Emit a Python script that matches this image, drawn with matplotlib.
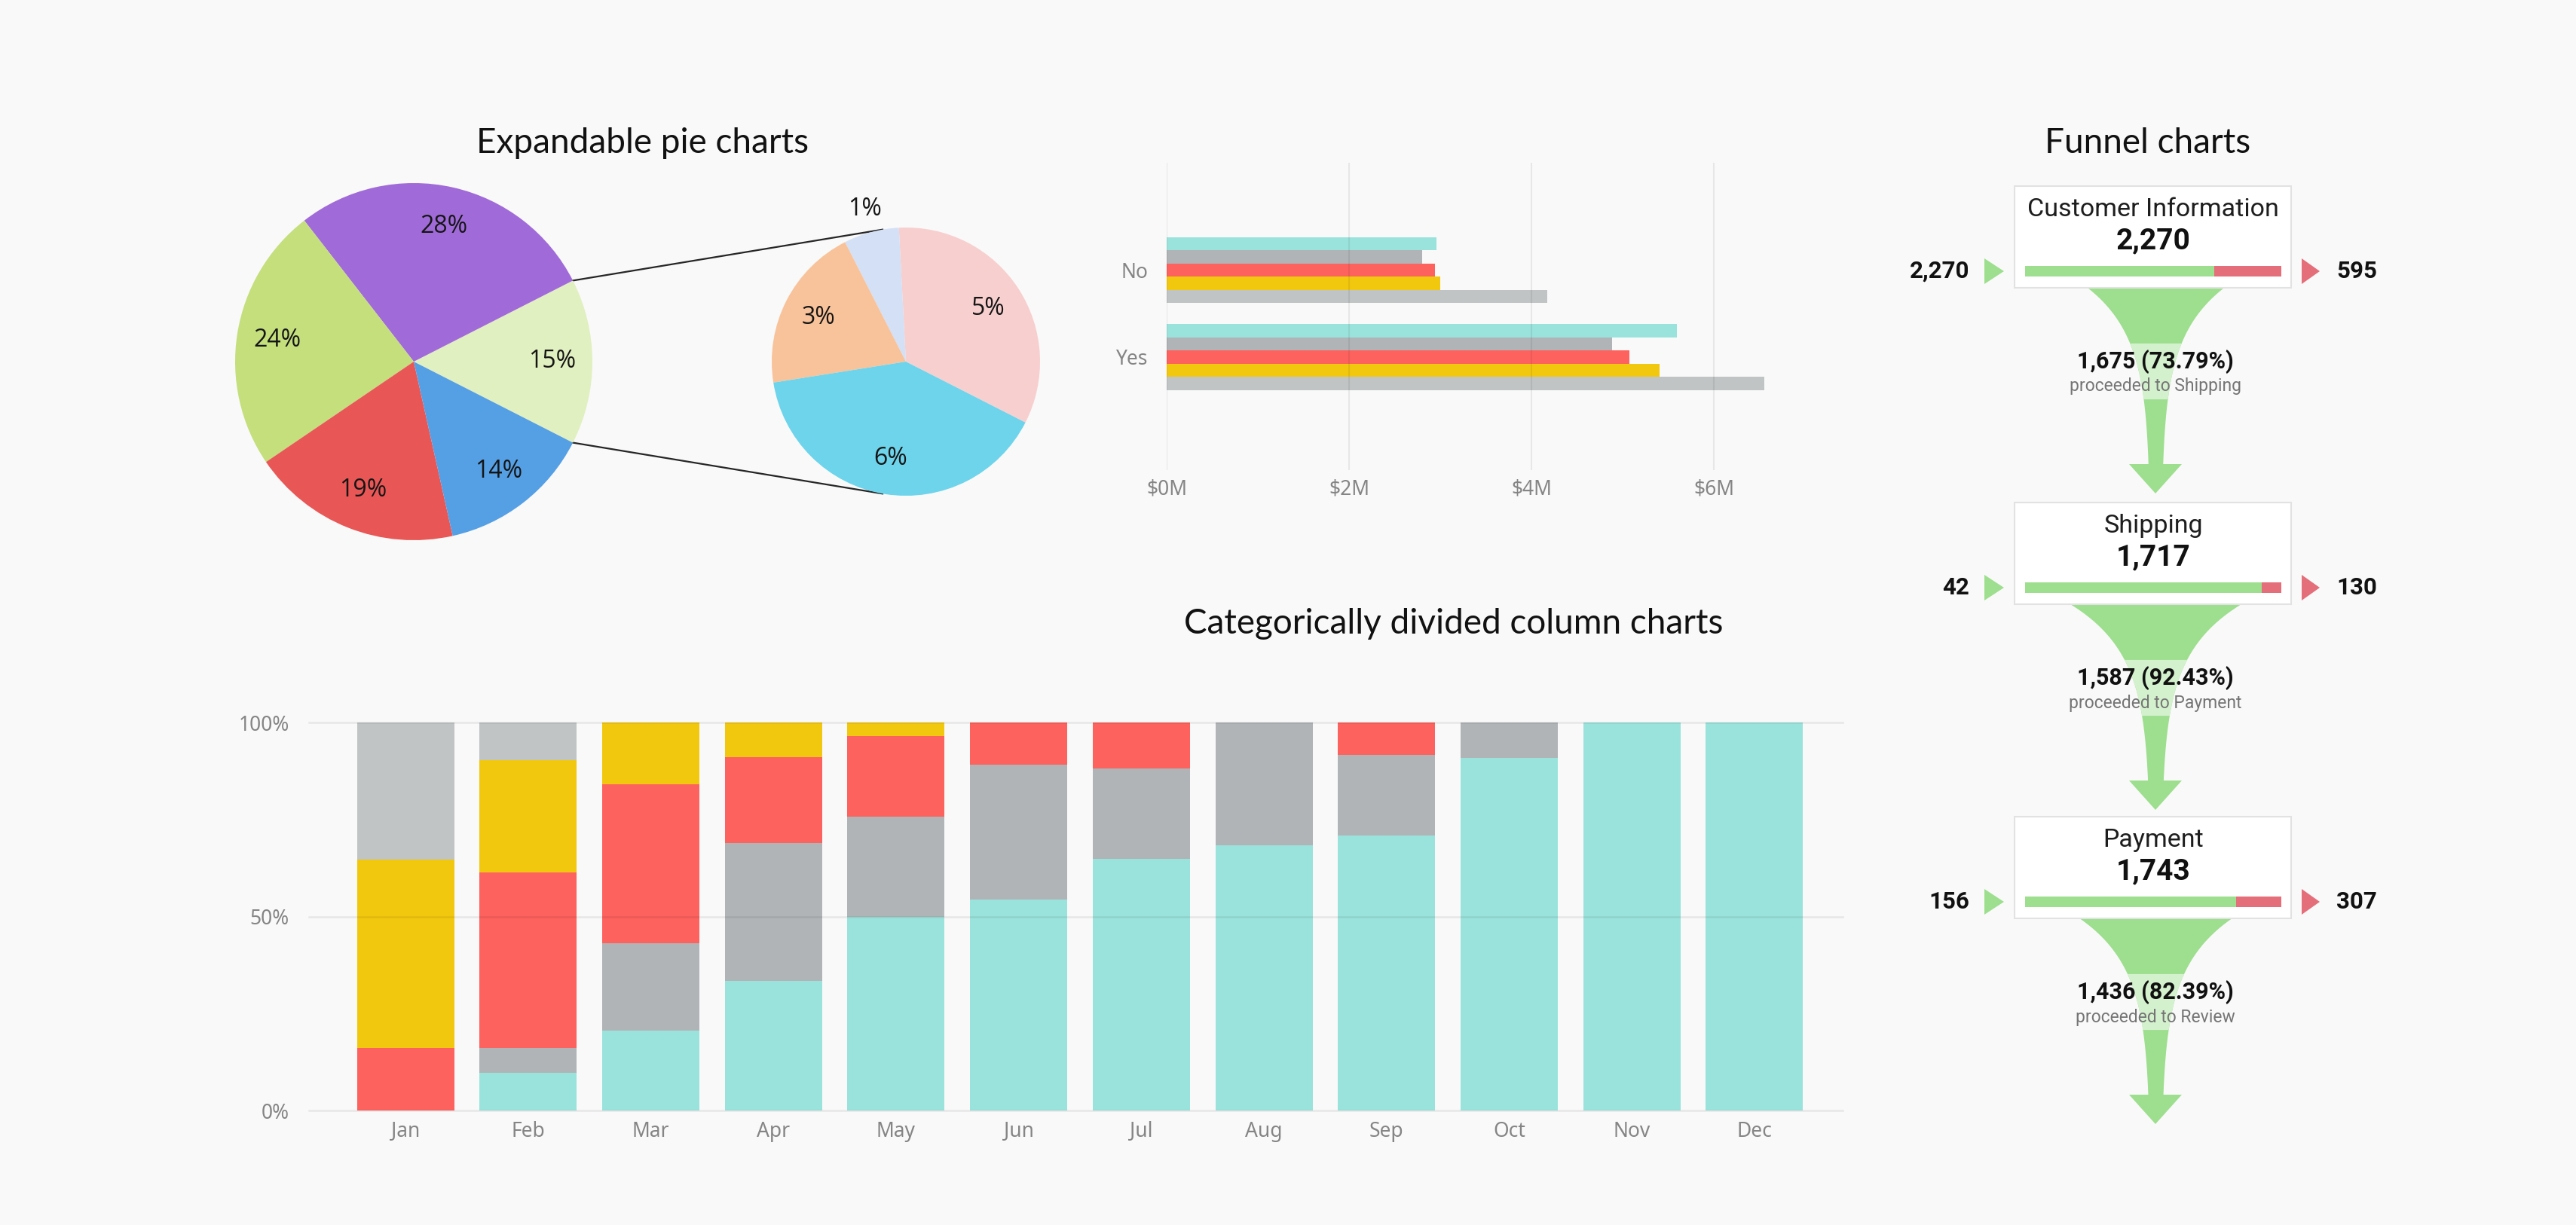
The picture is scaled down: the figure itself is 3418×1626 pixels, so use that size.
import numpy as np
import matplotlib
matplotlib.use('Agg')
import matplotlib.pyplot as plt
from matplotlib.patches import Rectangle, Polygon

# ---------------- data ----------------
pie_main_values = [15, 28, 24, 19, 14]
pie_main_colors = ['#E1F0C0', '#A06BD8', '#C4DF7C', '#E85756', '#559FE4']
pie_sub_values = [5, 1, 3, 6]
pie_sub_colors = ['#F8CFCF', '#D3E0F5', '#F8C39A', '#6DD4EB']

hbar_categories = ['No', 'Yes']
hbar_teal = [2.96, 5.59]
hbar_gray = [2.80, 4.88]
hbar_red = [2.94, 5.07]
hbar_yellow = [3.00, 5.40]
hbar_lightgray = [4.17, 6.55]
hbar_ticks = [0, 2, 4, 6]

months = ['Jan', 'Feb', 'Mar', 'Apr', 'May', 'Jun', 'Jul', 'Aug', 'Sep', 'Oct', 'Nov', 'Dec']
col_teal = [0, 9.7, 20.5, 33.4, 49.9, 54.3, 64.8, 68.3, 70.9, 90.9, 100, 100]
col_gray = [0, 6.4, 22.7, 35.6, 25.9, 34.9, 23.4, 31.7, 20.8, 9.1, 0, 0]
col_red = [16.1, 45.3, 40.8, 22.1, 20.7, 10.8, 11.8, 0, 8.3, 0, 0, 0]
col_yellow = [48.6, 28.9, 16.0, 8.9, 3.5, 0, 0, 0, 0, 0, 0, 0]
col_lightgray = [35.3, 9.7, 0, 0, 0, 0, 0, 0, 0, 0, 0, 0]
col_ticks = [0, 50, 100]

funnel_stages = ['Customer Information', 'Shipping', 'Payment']
funnel_totals = [2270, 1717, 1743]
funnel_entries = [2270, 42, 156]
funnel_exits = [595, 130, 307]
funnel_proceeded = [1675, 1587, 1436]
funnel_next = ['Shipping', 'Payment', 'Review']

# ---------------- style ----------------
SERIES_COLORS = ['#9AE3DC', '#B0B4B6', '#FD625E', '#F2C80F', '#C0C4C5']
BG = '#F9F9F9'
TITLE_FONT = ['Lato', 'DejaVu Sans']
LABEL_FONT = ['Open Sans', 'DejaVu Sans']
AXIS_FONT = ['Noto Sans', 'DejaVu Sans']
FUNNEL_FONT = ['Roboto', 'DejaVu Sans']
GREEN = '#9DDF8E'
GREEN_LIGHT = '#D4F1CD'
RED = '#E46E79'

W, H = 3418, 1626
DPI = 100
fig = plt.figure(figsize=(W / DPI, H / DPI), dpi=DPI, facecolor=BG)


def px_axes(x0, y0, x1, y1):
    return fig.add_axes([x0 / W, 1 - y1 / H, (x1 - x0) / W, (y1 - y0) / H])


def Y(y):
    return H - y


ov = fig.add_axes([0, 0, 1, 1])
ov.patch.set_visible(False)

# ---------------- titles ----------------
ov.text(852, Y(203), 'Expandable pie charts', ha='center', va='baseline',
        fontsize=33, family=TITLE_FONT, color='#111111')
ov.text(1929, Y(841), 'Categorically divided column charts', ha='center', va='baseline',
        fontsize=33, family=TITLE_FONT, color='#111111')
ov.text(2850, Y(203), 'Funnel charts', ha='center', va='baseline',
        fontsize=33, family=TITLE_FONT, color='#111111')

# ---------------- pies ----------------
mc = (549, Y(480)); mr = 237
sc = (1202, Y(480)); sr = 178
wm, tm, am = ov.pie(pie_main_values, colors=pie_main_colors, startangle=-27,
                    counterclock=True, center=mc, radius=mr,
                    autopct=lambda p: f'{p:.0f}%', pctdistance=0.775,
                    wedgeprops=dict(linewidth=0),
                    textprops=dict(fontsize=23, family=LABEL_FONT, color='#151515'))
ws, _ = ov.pie(pie_sub_values, colors=pie_sub_colors, startangle=-27,
               counterclock=True, center=sc, radius=sr,
               wedgeprops=dict(linewidth=0))
for w, v in zip(ws, pie_sub_values):
    ang = np.deg2rad((w.theta1 + w.theta2) / 2)
    d = 1.18 if v < 2 else 0.73
    ov.text(sc[0] + d * sr * np.cos(ang), sc[1] + d * sr * np.sin(ang), f'{v}%',
            ha='center', va='center', fontsize=23, family=LABEL_FONT, color='#151515')

# connectors
for a_main, a_sub in [(wm[0].theta2, 100), (wm[0].theta1, 260)]:
    p1 = (mc[0] + mr * np.cos(np.deg2rad(a_main)), mc[1] + mr * np.sin(np.deg2rad(a_main)))
    p2 = (sc[0] + sr * np.cos(np.deg2rad(a_sub)), sc[1] + sr * np.sin(np.deg2rad(a_sub)))
    ov.plot([p1[0], p2[0]], [p1[1], p2[1]], color='#262626', lw=1.6, zorder=0.5)

# ---------------- funnel ----------------
cx_box = 2857
cx = 2860
box_x0, box_x1 = 2673, 3040
box_h = 135
box_tops = [247, 667, 1084]
bar_x0, bar_x1 = 2687, 3027
for i, stage in enumerate(funnel_stages):
    T = box_tops[i]
    total = funnel_totals[i]
    proc = funnel_proceeded[i]
    pct = proc / total * 100
    ov.add_patch(Rectangle((box_x0, Y(T + box_h)), box_x1 - box_x0, box_h,
                           fc='white', ec='#E2E2E2', lw=1.5, zorder=3))
    ov.text(cx_box, Y(T + 31), stage, ha='center', va='center', fontsize=24.5,
            family=FUNNEL_FONT, color='#1E1E1E', zorder=4)
    ov.text(cx_box, Y(T + 73), f'{total:,}', ha='center', va='center', fontsize=28,
            weight='bold', family=FUNNEL_FONT, color='#111111', zorder=4)
    bw = bar_x1 - bar_x0
    ov.barh([Y(T + 113)], [proc / total * bw], left=bar_x0, height=14,
            color=GREEN, lw=0, zorder=4)
    ov.barh([Y(T + 113)], [(1 - proc / total) * bw], left=bar_x0 + proc / total * bw,
            height=14, color=RED, lw=0, zorder=4)
    # side markers
    ov.add_patch(Polygon([(2633, Y(T + 96)), (2633, Y(T + 130)), (2659, Y(T + 113))],
                         closed=True, fc=GREEN, ec='none', zorder=4))
    ov.add_patch(Polygon([(3054, Y(T + 96)), (3054, Y(T + 130)), (3078, Y(T + 113))],
                         closed=True, fc=RED, ec='none', zorder=4))
    ov.text(2613, Y(T + 113), f'{funnel_entries[i]:,}', ha='right', va='center',
            fontsize=22.5, weight='bold', family=FUNNEL_FONT, color='#111111')
    ov.text(3100, Y(T + 113), f'{funnel_exits[i]:,}', ha='left', va='center',
            fontsize=22.5, weight='bold', family=FUNNEL_FONT, color='#111111')
    # funnel shape
    B = T + box_h
    top_w = 2.44 * pct
    stem = 15
    yr = np.linspace(0, 236, 300)
    wprof = stem + (top_w - stem) * np.exp(-yr / 65.0)
    ov.fill_betweenx(Y(B + yr), cx - wprof / 2, cx + wprof / 2, color=GREEN, lw=0, zorder=1)
    band = (yr >= 73) & (yr <= 148)
    ov.fill_betweenx(Y(B + yr[band]), cx - wprof[band] / 2, cx + wprof[band] / 2,
                     color=GREEN_LIGHT, lw=0, zorder=1.5)
    ov.add_patch(Polygon([(cx - 35, Y(B + 234)), (cx + 35, Y(B + 234)), (cx, Y(B + 273))],
                         closed=True, fc=GREEN, ec='none', zorder=1))
    ov.text(cx, Y(B + 98), f'{proc:,} ({pct:.2f}%)', ha='center', va='center',
            fontsize=22, weight='bold', family=FUNNEL_FONT, color='#111111', zorder=4)
    ov.text(cx, Y(B + 131), f'proceeded to {funnel_next[i]}', ha='center', va='center',
            fontsize=16.5, family=FUNNEL_FONT, color='#757575', zorder=4)

ov.set_xlim(0, W)
ov.set_ylim(0, H)
ov.set_aspect('auto')
ov.axis('off')

# ---------------- horizontal bar chart ----------------
axb = px_axes(1548, 216, 2347, 624)
axb.patch.set_visible(False)
hseries = [hbar_teal, hbar_gray, hbar_red, hbar_yellow, hbar_lightgray]
hgt = 0.1515
ypos = np.arange(len(hbar_categories))
for k, (s, c) in enumerate(zip(hseries, SERIES_COLORS)):
    axb.barh(ypos + (k - 2) * hgt, s, height=hgt, color=c, lw=0)
axb.set_xlim(0, 6.6)
axb.set_ylim(2.30, -1.234)
axb.set_yticks(ypos, hbar_categories)
axb.set_xticks(hbar_ticks, [f'${t}M' for t in hbar_ticks])
axb.grid(axis='x', color='black', alpha=0.07, lw=1.5)
axb.grid(axis='y', visible=False)
axb.set_axisbelow(False)
for sp in axb.spines.values():
    sp.set_visible(False)
axb.tick_params(axis='x', length=0, labelsize=19, labelcolor='#858585', pad=8)
axb.tick_params(axis='y', length=0, labelsize=19, labelcolor='#858585', pad=18)
for lab in axb.get_xticklabels() + axb.get_yticklabels():
    lab.set_family(AXIS_FONT)

# ---------------- column chart ----------------
axc = px_axes(410, 959, 2445, 1474)
axc.patch.set_visible(False)
cseries = [col_teal, col_gray, col_red, col_yellow, col_lightgray]
xpos = np.arange(len(months))
bottom = np.zeros(len(months))
for s, c in zip(cseries, SERIES_COLORS):
    axc.bar(xpos, s, bottom=bottom, width=0.793, color=c, lw=0)
    bottom += np.array(s)
axc.set_xlim(-0.787, 11.72)
axc.set_ylim(0, 100)
axc.set_xticks(xpos, months)
axc.set_yticks(col_ticks, [f'{t}%' for t in col_ticks])
axc.grid(axis='y', color='black', alpha=0.07, lw=1.8)
axc.grid(axis='x', visible=False)
axc.set_axisbelow(False)
for gl in axc.get_ygridlines():
    gl.set_clip_on(False)
for sp in axc.spines.values():
    sp.set_visible(False)
axc.tick_params(axis='x', length=0, labelsize=19, labelcolor='#858585', pad=10)
axc.tick_params(axis='y', length=0, labelsize=19, labelcolor='#858585', pad=19)
for lab in axc.get_xticklabels() + axc.get_yticklabels():
    lab.set_family(AXIS_FONT)

fig.savefig('out.png', dpi=DPI, facecolor=BG)
